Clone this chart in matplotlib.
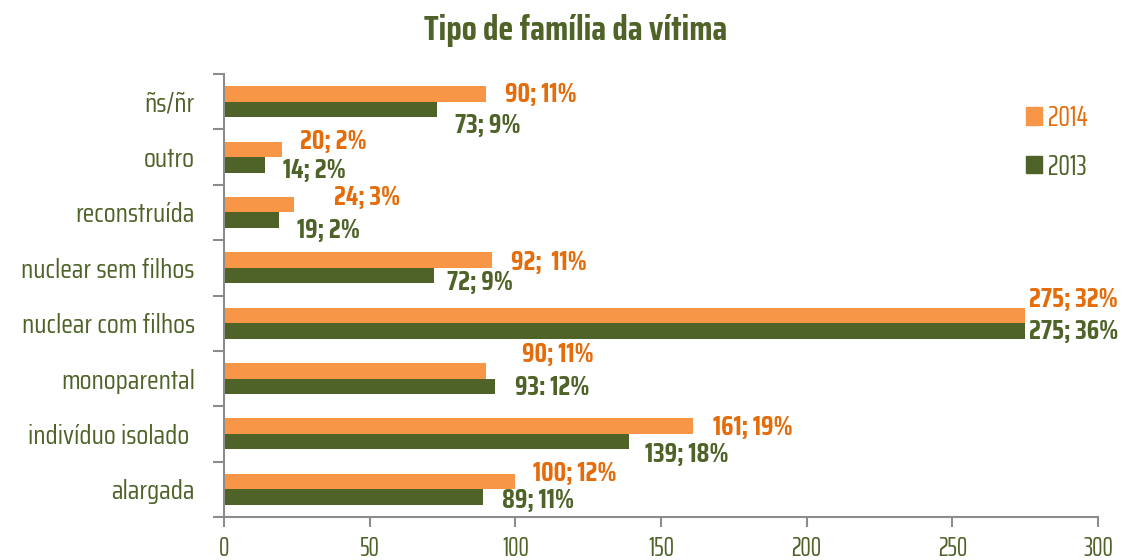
import matplotlib
matplotlib.use('Agg')
import matplotlib.pyplot as plt
import numpy as np
from matplotlib.patches import Patch

plt.rcParams['font.family'] = ['Saira Condensed', 'Roboto Condensed', 'DejaVu Sans']
NARROW = ['Saira ExtraCondensed', 'Roboto Condensed', 'DejaVu Sans']

# data, bottom to top as drawn
categories = ['alargada', 'indivíduo isolado ', 'monoparental', 'nuclear com filhos',
              'nuclear sem filhos', 'reconstruída', 'outro', 'ñs/ñr']
values_2014 = [100, 161, 90, 275, 92, 24, 20, 90]
values_2013 = [89, 139, 93, 275, 72, 19, 14, 73]
labels_2014 = ['100; 12%', '161; 19%', '90; 11%', '275; 32%', '92;  11%', '24; 3%', '20; 2%', '90; 11%']
labels_2013 = ['89; 11%', '139; 18%', '93: 12%', '275; 36%', '72; 9%', '19; 2%', '14; 2%', '73; 9%']
x_ticks = [0, 50, 100, 150, 200, 250, 300]

# manual label offsets (pixels from bar end / bar centre), like the hand-placed Excel labels
off_2014 = [(18, 8), (20, -1), (36, 16), (4, 16), (19, -2), (40, 7), (18, 8), (19, -1)]
off_2013 = [(19, -3), (16, -13), (20, -1), (4, -1), (13, -7), (18, -10), (18, -6), (18, -16)]

ORANGE = '#F79646'
ORANGE_TXT = '#E46C0A'
GREEN = '#4F6228'
AXIS_GREY = '#8C8C8C'

fig = plt.figure(figsize=(11.42, 5.6), dpi=100)
ax = fig.add_axes([224 / 1142, 1 - 517 / 560, (1098 - 224) / 1142, (517 - 74) / 560])

y = np.arange(len(categories))
h = 0.28
ax.barh(y + h / 2, values_2014, height=h, color=ORANGE, label='2014')
ax.barh(y - h / 2, values_2013, height=h, color=GREEN, label='2013')

for i in range(len(categories)):
    ax.annotate(labels_2014[i], (values_2014[i], y[i] + h / 2), xytext=off_2014[i],
                textcoords='offset pixels', ha='left', va='center',
                color=ORANGE_TXT, fontsize=19, fontweight='bold')
    ax.annotate(labels_2013[i], (values_2013[i], y[i] - h / 2), xytext=off_2013[i],
                textcoords='offset pixels', ha='left', va='center',
                color=GREEN, fontsize=19, fontweight='bold')

ax.set_xlim(0, 300)
ax.set_ylim(-0.5, len(categories) - 0.5)
ax.set_xticks(x_ticks)
ax.set_xticklabels([str(t) for t in x_ticks], family=NARROW)
ax.set_yticks(y)
ax.set_yticklabels(categories)
ax.set_yticks(np.arange(-0.5, len(categories)), minor=True)
ax.tick_params(axis='y', which='major', length=0, pad=21, labelsize=19.5, labelcolor=GREEN)
ax.tick_params(axis='y', which='minor', length=8, width=1.5, color=AXIS_GREY)
ax.tick_params(axis='x', which='major', length=7, width=1.5, color=AXIS_GREY,
               labelsize=19, labelcolor=GREEN, pad=7)

for s in ['top', 'right']:
    ax.spines[s].set_visible(False)
for s in ['left', 'bottom']:
    ax.spines[s].set_color(AXIS_GREY)
    ax.spines[s].set_linewidth(1.5)

fig.text(0.504, 0.946, 'Tipo de família da vítima', ha='center', va='center',
         color=GREEN, fontsize=25, fontweight='bold')

handles = [Patch(color=ORANGE, label='2014'), Patch(color=GREEN, label='2013')]
leg = fig.legend(handles=handles, loc='upper left', bbox_to_anchor=(1000 / 1142, 1 - 78 / 560),
                 frameon=False, prop={'family': NARROW, 'size': 21}, handlelength=0.55,
                 handleheight=0.55, handletextpad=0.2, labelspacing=0.7,
                 labelcolor=[ORANGE_TXT, GREEN])

fig.savefig('out.png', dpi=100)
